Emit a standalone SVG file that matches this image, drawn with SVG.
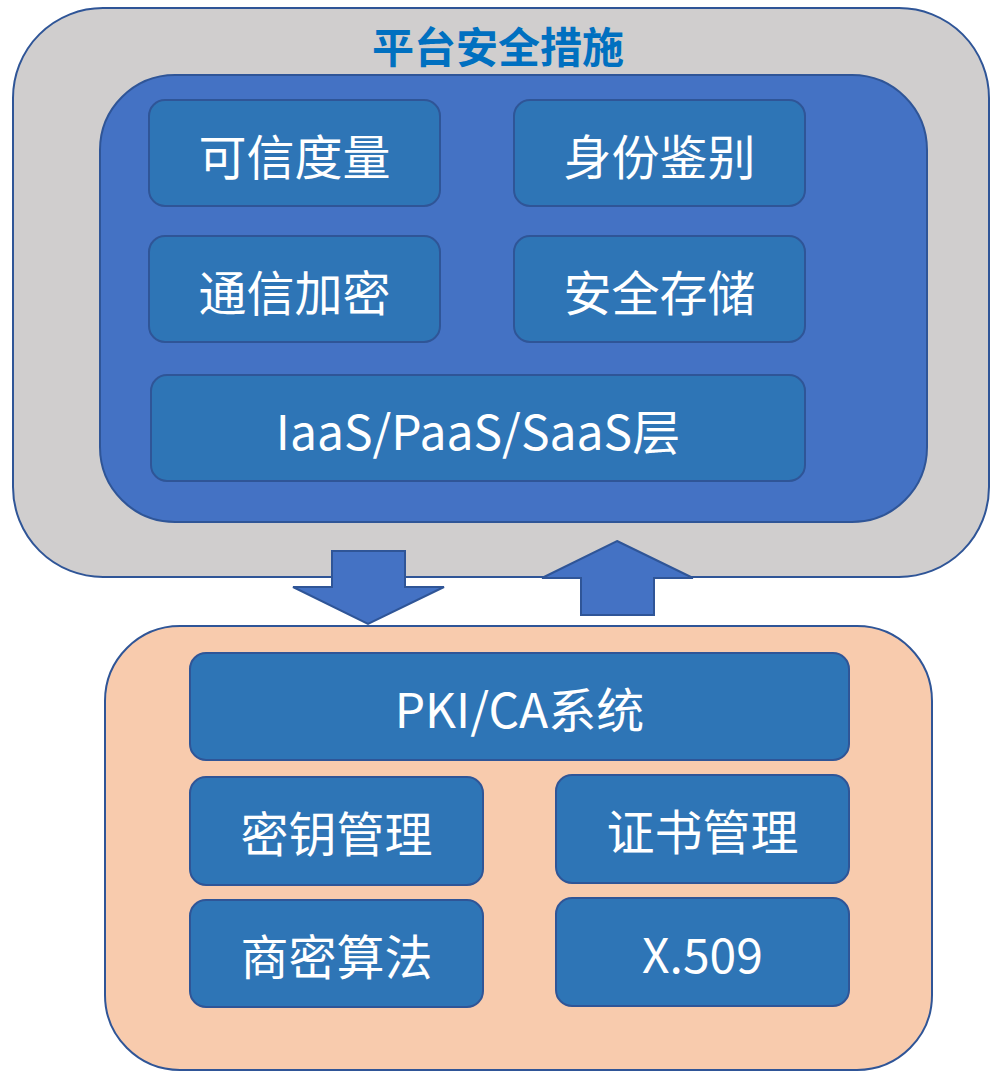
<svg xmlns="http://www.w3.org/2000/svg" width="991" height="1072" viewBox="0 0 991 1072">
  <style>
    .frame { stroke: #2F5597; stroke-width: 2; }
    .cell { fill: #2E75B6; stroke: #2F5597; stroke-width: 2; }
    .label { fill: #FFFFFF; font-family: "Noto Sans CJK SC", "Noto Sans", sans-serif; font-size: 48px; text-anchor: middle; dominant-baseline: central; }
    .title { fill: #0070C0; font-family: "Noto Sans CJK SC", "Noto Sans", sans-serif; font-size: 42px; font-weight: bold; text-anchor: middle; dominant-baseline: central; }
    .arrow { fill: #4472C4; stroke: #2F5597; stroke-width: 2; stroke-linejoin: miter; }
  </style>
  <rect width="991" height="1072" fill="#FFFFFF"/>

  <!-- platform security layer -->
  <g id="platform">
    <rect class="frame" x="13" y="8" width="976" height="569" rx="90" ry="90" fill="#D0CECE"/>
    <text class="title" x="498" y="44">平台安全措施</text>
    <rect class="frame" x="100" y="75" width="827" height="447" rx="75" ry="75" fill="#4472C4"/>
  </g>
  <g id="trusted-measure">
    <rect class="cell" x="149" y="100" width="291" height="106" rx="16"/>
    <text class="label" x="294.5" y="154">可信度量</text>
  </g>
  <g id="identity-auth">
    <rect class="cell" x="514" y="100" width="291" height="106" rx="16"/>
    <text class="label" x="659.5" y="154">身份鉴别</text>
  </g>
  <g id="comm-encryption">
    <rect class="cell" x="149" y="236" width="291" height="106" rx="16"/>
    <text class="label" x="294.5" y="290">通信加密</text>
  </g>
  <g id="secure-storage">
    <rect class="cell" x="514" y="236" width="291" height="106" rx="16"/>
    <text class="label" x="659.5" y="290">安全存储</text>
  </g>
  <g id="cloud-layers">
    <rect class="cell" x="151" y="375" width="654" height="106" rx="16"/>
    <text class="label" x="478" y="429">IaaS/PaaS/SaaS层</text>
  </g>

  <!-- PKI foundation layer -->
  <g id="pki">
    <rect class="frame" x="105" y="626" width="827" height="444" rx="75" ry="75" fill="#F8CBAD"/>
  </g>
  <g id="pki-ca">
    <rect class="cell" x="190" y="653" width="659" height="107" rx="16"/>
    <text class="label" x="519.5" y="707">PKI/CA系统</text>
  </g>
  <g id="key-mgmt">
    <rect class="cell" x="190" y="777" width="293" height="108" rx="16"/>
    <text class="label" x="336.5" y="831">密钥管理</text>
  </g>
  <g id="cert-mgmt">
    <rect class="cell" x="556" y="775" width="293" height="108" rx="16"/>
    <text class="label" x="702.5" y="829">证书管理</text>
  </g>
  <g id="sm-algorithms">
    <rect class="cell" x="190" y="900" width="293" height="107" rx="16"/>
    <text class="label" x="336.5" y="954">商密算法</text>
  </g>
  <g id="x509">
    <rect class="cell" x="556" y="898" width="293" height="108" rx="16"/>
    <text class="label" x="702.5" y="952">X.509</text>
  </g>

  <!-- block arrows between layers -->
  <g id="connectors">
    <polygon class="arrow" points="332,551 405,551 405,587 444,587 368,624 293,587 332,587"/>
    <polygon class="arrow" points="617,541 693,578 654,578 654,615 581,615 581,578 542,578"/>
  </g>
</svg>
